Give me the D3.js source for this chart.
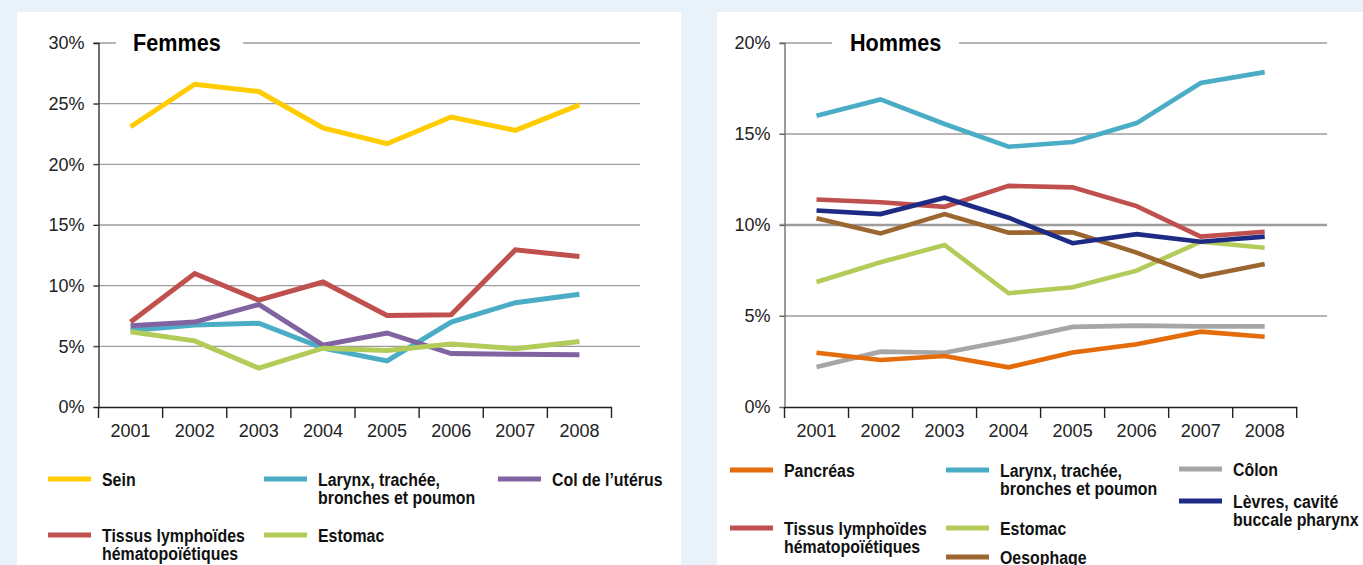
<!DOCTYPE html>
<html lang="fr">
<head>
<meta charset="utf-8">
<script src="https://cdn.jsdelivr.net/npm/d3@7"></script>
<style>
  html, body { margin: 0; padding: 0; background: #e9f1f9; }
  svg { display: block; }
  .tick-label { font-family: "Liberation Sans", Arial, sans-serif; font-size: 18px; fill: #222; }
  .title { font-family: "Liberation Sans", Arial, sans-serif; font-weight: 700; font-size: 23px; fill: #000; }
  .legend { font-family: "Liberation Sans", Arial, sans-serif; font-weight: 700; font-size: 18.5px; fill: #111; }
</style>
</head>
<body>
<svg id="chart" width="1363" height="565"></svg>
<script>
// Years on the horizontal axis
const years = [2001, 2002, 2003, 2004, 2005, 2006, 2007, 2008];

// Women: share of cancer deaths (%)
const femmesSein     = [23.1, 26.6, 26.0, 23.0, 21.7, 23.9, 22.8, 24.9];
const femmesTissus   = [7.0, 11.0, 8.8, 10.3, 7.55, 7.6, 12.95, 12.4];
const femmesLarynx   = [6.3, 6.75, 6.9, 4.85, 3.8, 7.0, 8.6, 9.3];
const femmesCol      = [6.7, 7.0, 8.45, 5.1, 6.1, 4.4, 4.35, 4.3];
const femmesEstomac  = [6.2, 5.45, 3.2, 4.85, 4.65, 5.2, 4.8, 5.4];

// Men: share of cancer deaths (%)
const hommesLarynx    = [16.0, 16.9, 15.55, 14.3, 14.56, 15.6, 17.8, 18.4];
const hommesEstomac   = [6.87, 7.95, 8.9, 6.25, 6.58, 7.49, 9.08, 8.75];
const hommesOesophage = [10.37, 9.54, 10.6, 9.58, 9.6, 8.48, 7.16, 7.86];
const hommesTissus    = [11.4, 11.25, 11.0, 12.15, 12.07, 11.04, 9.36, 9.63];
const hommesLevres    = [10.8, 10.6, 11.5, 10.4, 9.0, 9.5, 9.08, 9.36];
const hommesColon     = [2.2, 3.04, 2.98, 3.65, 4.4, 4.47, 4.43, 4.43];
const hommesPancreas  = [2.98, 2.58, 2.8, 2.18, 3.0, 3.45, 4.14, 3.86];

// Tick values
const femmesTicks = [0, 5, 10, 15, 20, 25, 30];
const hommesTicks = [0, 5, 10, 15, 20];

const colors = {
  sein: "#ffcc00", larynx: "#4bacc6", col: "#8064a2", tissus: "#c0504d",
  estomac: "#b3cb59", pancreas: "#e46c0a", colon: "#a6a6a6",
  levres: "#1d2b85", oesophage: "#9c6631"
};

const svg = d3.select("#chart");

// Panel backgrounds
svg.append("rect").attr("x", 17).attr("y", 12).attr("width", 664).attr("height", 560).attr("fill", "#fff");
svg.append("rect").attr("x", 717).attr("y", 12).attr("width", 660).attr("height", 560).attr("fill", "#fff");

// Condensed bold text: regular sans squeezed horizontally
function condensedText(g, cls, x, y, lines, squeeze, lineGap) {
  const t = g.append("text").attr("class", cls)
    .attr("transform", `translate(${x},${y}) scale(${squeeze},1)`);
  lines.forEach((s, i) => t.append("tspan").attr("x", 0).attr("dy", i === 0 ? 0 : lineGap).text(s));
  return t;
}

function panel(cfg) {
  const g = svg.append("g");
  const x = d3.scaleBand().domain(years).range([cfg.x0, cfg.x1]).padding(0);
  const y = d3.scaleLinear().domain([0, cfg.max]).range([407, 43]);

  // Horizontal grid lines
  g.append("g").selectAll("line").data(cfg.ticks.filter(d => d > 0)).join("line")
    .attr("x1", cfg.x0 - 5).attr("x2", cfg.gridEnd)
    .attr("y1", d => y(d)).attr("y2", d => y(d))
    .attr("stroke", "#9d9d9d").attr("stroke-width", d => d === cfg.heavy ? 2.4 : 1.4);

  // Title with a white band breaking the top grid line
  g.append("rect").attr("x", cfg.gapX).attr("y", y(cfg.max) - 12).attr("width", cfg.gapW).attr("height", 24).attr("fill", "#fff");
  condensedText(g, "title", cfg.titleX, y(cfg.max) + 8, [cfg.title], 0.94, 0);

  // Y axis
  const yAxis = d3.axisLeft(y).tickValues(cfg.ticks).tickFormat(d => d + "%").tickSize(5).tickPadding(9);
  const ya = g.append("g").attr("transform", `translate(${cfg.x0},0)`).call(yAxis);
  ya.select(".domain").attr("stroke", cfg.axisColor).attr("stroke-width", 1.3);
  ya.selectAll(".tick line").attr("stroke", cfg.axisColor);
  ya.selectAll("text").attr("class", "tick-label").attr("font-size", null).attr("font-family", null).attr("fill", null);

  // X axis: labels centred in each band, ticks at band edges
  const xAxis = d3.axisBottom(x).tickSize(0).tickPadding(17);
  const xa = g.append("g").attr("transform", "translate(0,407)").call(xAxis);
  xa.select(".domain").attr("stroke", "#222").attr("stroke-width", 1.4);
  xa.selectAll("text").attr("class", "tick-label").attr("font-size", null).attr("font-family", null).attr("fill", null);
  const edges = years.map(d => x(d)).concat([x(years[years.length - 1]) + x.bandwidth()]);
  xa.append("g").selectAll("line").data(edges).join("line")
    .attr("x1", d => d).attr("x2", d => d).attr("y1", 0).attr("y2", 11)
    .attr("stroke", "#222").attr("stroke-width", 1.4);

  // Series lines
  const line = d3.line().x((d, i) => x(years[i]) + x.bandwidth() / 2).y(d => y(d));
  cfg.series.forEach(s => {
    g.append("path").datum(s.values).attr("d", line)
      .attr("fill", "none").attr("stroke", colors[s.key]).attr("stroke-width", cfg.lineWidth)
      .attr("stroke-linejoin", "miter");
  });

  // Legend
  cfg.legend.forEach(l => {
    g.append("line").attr("x1", l.x).attr("x2", l.x + 43).attr("y1", l.y).attr("y2", l.y)
      .attr("stroke", colors[l.key]).attr("stroke-width", 5);
    condensedText(g, "legend", l.x + 54, l.y + 7, l.label, 0.86, 18.5);
  });
}

panel({
  title: "Femmes", titleX: 133, gapX: 116, gapW: 127,
  x0: 98.5, x1: 611.5, gridEnd: 640, max: 30, ticks: femmesTicks, heavy: null,
  axisColor: "#222", lineWidth: 5,
  series: [
    { key: "sein", values: femmesSein },
    { key: "tissus", values: femmesTissus },
    { key: "larynx", values: femmesLarynx },
    { key: "col", values: femmesCol },
    { key: "estomac", values: femmesEstomac }
  ],
  legend: [
    { key: "sein", x: 48, y: 479, label: ["Sein"] },
    { key: "larynx", x: 264, y: 479, label: ["Larynx, trachée,", "bronches et poumon"] },
    { key: "col", x: 498, y: 479, label: ["Col de l\u2019utérus"] },
    { key: "tissus", x: 48, y: 535, label: ["Tissus lymphoïdes", "hématopoïétiques"] },
    { key: "estomac", x: 264, y: 535, label: ["Estomac"] }
  ]
});

panel({
  title: "Hommes", titleX: 850, gapX: 832, gapW: 127,
  x0: 784.5, x1: 1296.7, gridEnd: 1327, max: 20, ticks: hommesTicks, heavy: 10,
  axisColor: "#666", lineWidth: 4.6,
  series: [
    { key: "larynx", values: hommesLarynx },
    { key: "estomac", values: hommesEstomac },
    { key: "oesophage", values: hommesOesophage },
    { key: "tissus", values: hommesTissus },
    { key: "levres", values: hommesLevres },
    { key: "colon", values: hommesColon },
    { key: "pancreas", values: hommesPancreas }
  ],
  legend: [
    { key: "pancreas", x: 730, y: 470, label: ["Pancréas"] },
    { key: "larynx", x: 946, y: 470, label: ["Larynx, trachée,", "bronches et poumon"] },
    { key: "colon", x: 1179, y: 469, label: ["Côlon"] },
    { key: "levres", x: 1179, y: 501, label: ["Lèvres, cavité", "buccale pharynx"] },
    { key: "tissus", x: 730, y: 528, label: ["Tissus lymphoïdes", "hématopoïétiques"] },
    { key: "estomac", x: 946, y: 528, label: ["Estomac"] },
    { key: "oesophage", x: 946, y: 557, label: ["Oesophage"] }
  ]
});
</script>
</body>
</html>
